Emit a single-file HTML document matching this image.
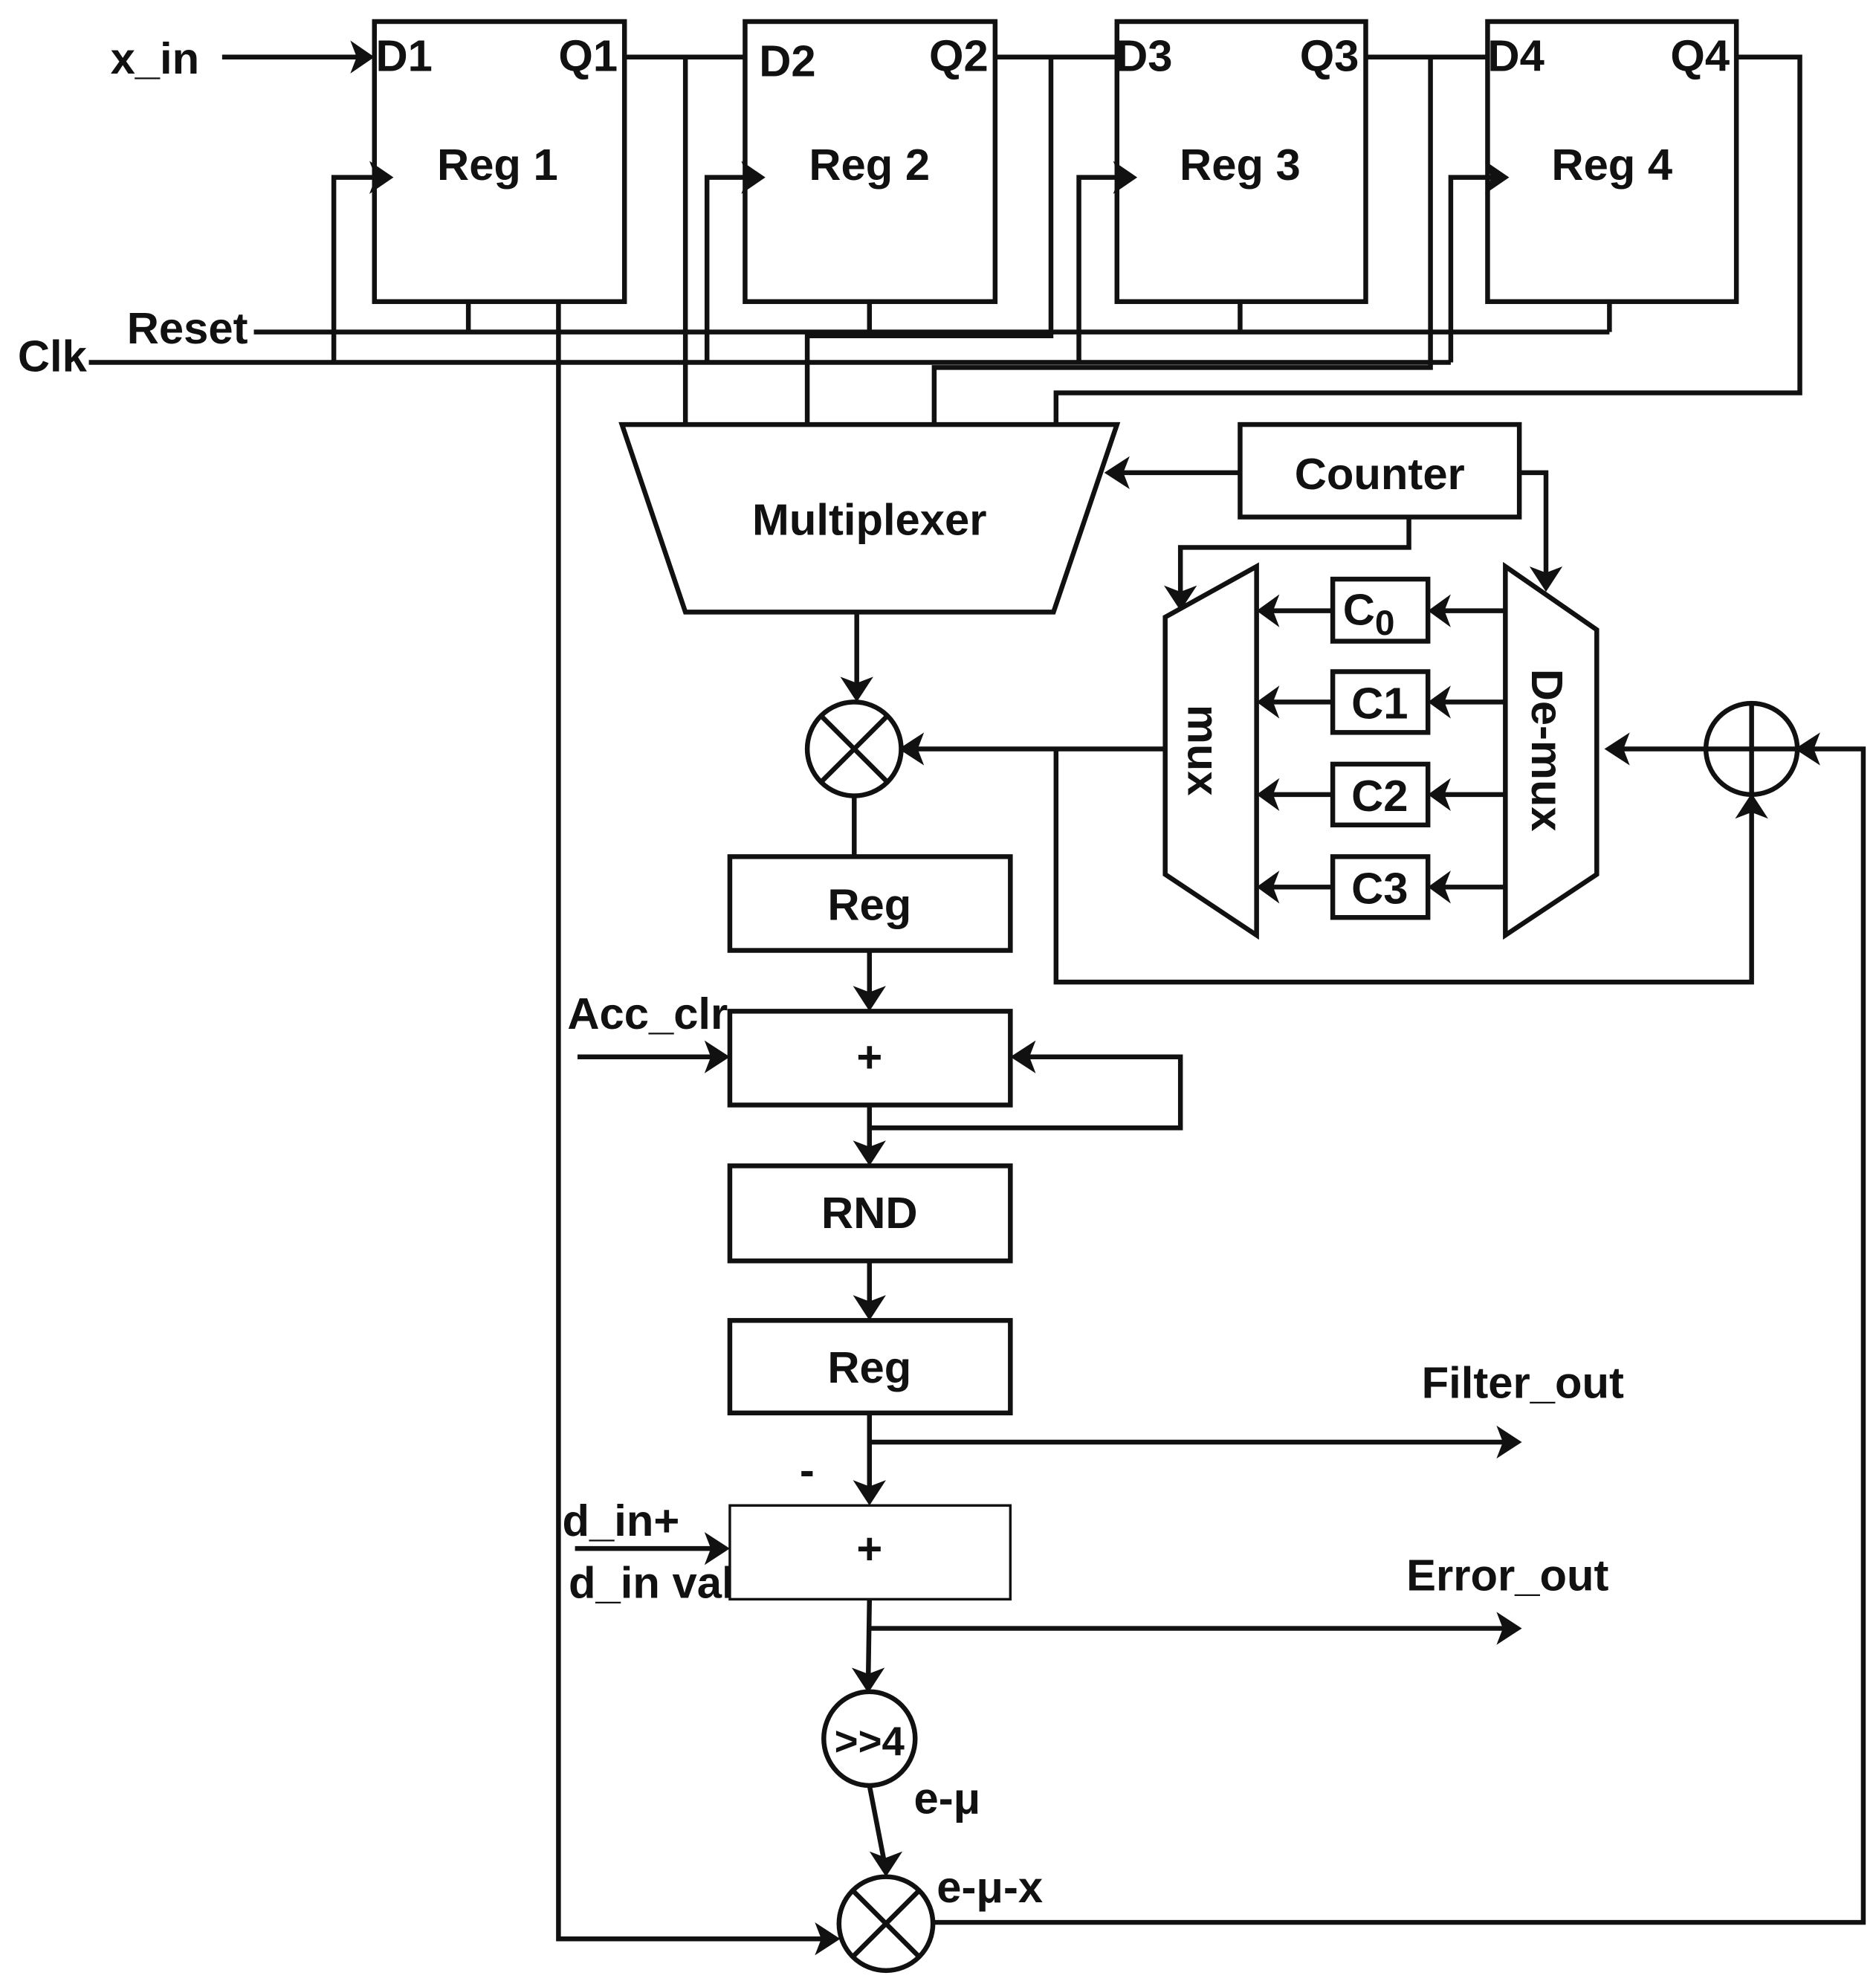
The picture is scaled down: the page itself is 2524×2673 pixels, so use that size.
<!DOCTYPE html>
<html><head><meta charset="utf-8"><style>
html,body{margin:0;padding:0;background:#fff}
svg{display:block}
text{font-family:"Liberation Sans",Arial,sans-serif;font-weight:bold;fill:#111}
</style></head><body>
<svg width="2524" height="2673" viewBox="0 0 1478 1568" preserveAspectRatio="none" xmlns="http://www.w3.org/2000/svg">
<g fill="none" stroke="#111" stroke-width="3.8">
<rect x="295" y="17" width="197" height="221"/>
<rect x="587" y="17" width="197" height="221"/>
<rect x="880" y="17" width="196" height="221"/>
<rect x="1172" y="17" width="196" height="221"/>
<line x1="175" y1="45" x2="285" y2="45"/>
<polyline points="263,286 263,140 298,140"/>
<polyline points="557,286 557,140 590,140"/>
<polyline points="850,286 850,140 883,140"/>
<polyline points="1143,286 1143,140 1175,140"/>
<line x1="70" y1="286" x2="1143" y2="286"/>
<line x1="200" y1="262" x2="1268" y2="262"/>
<line x1="369" y1="238" x2="369" y2="262"/>
<line x1="685" y1="238" x2="685" y2="262"/>
<line x1="977" y1="238" x2="977" y2="262"/>
<line x1="1268" y1="238" x2="1268" y2="262"/>
<line x1="492" y1="45" x2="587" y2="45"/>
<line x1="784" y1="45" x2="880" y2="45"/>
<line x1="1076" y1="45" x2="1172" y2="45"/>
<line x1="540" y1="45" x2="540" y2="335"/>
<polyline points="828,45 828,265 636,265 636,335"/>
<polyline points="1127,45 1127,290 736,290 736,335"/>
<polyline points="1368,45 1418,45 1418,310 832,310 832,335"/>
<polyline points="440,238 440,1530 650,1530"/>
<polygon points="490,335 880,335 830,483 540,483"/>
<rect x="977" y="335" width="220" height="73"/>
<line x1="977" y1="373" x2="882" y2="373"/>
<polyline points="1197,373 1218,373 1218,455"/>
<polyline points="1110,408 1110,432 930,432 930,470"/>
<polygon points="918,487 990,447 990,738 918,690"/>
<polygon points="1186,447 1258,497 1258,690 1186,738"/>
<rect x="1050" y="457" width="75" height="49"/>
<rect x="1050" y="530" width="75" height="48"/>
<rect x="1050" y="603" width="75" height="48"/>
<rect x="1050" y="676" width="75" height="48"/>
<line x1="1186" y1="482" x2="1133" y2="482"/><line x1="1050" y1="482" x2="998" y2="482"/>
<line x1="1186" y1="554" x2="1133" y2="554"/><line x1="1050" y1="554" x2="998" y2="554"/>
<line x1="1186" y1="627" x2="1133" y2="627"/><line x1="1050" y1="627" x2="998" y2="627"/>
<line x1="1186" y1="700" x2="1133" y2="700"/><line x1="1050" y1="700" x2="998" y2="700"/>
<circle cx="673" cy="591" r="37"/>
<line x1="647" y1="565" x2="699" y2="617"/><line x1="699" y1="565" x2="647" y2="617"/>
<line x1="675" y1="483" x2="675" y2="545"/>
<line x1="918" y1="591" x2="718" y2="591"/>
<polyline points="832,591 832,775 1380,775 1380,636"/>
<circle cx="1380" cy="591" r="36"/>
<line x1="1344" y1="591" x2="1274" y2="591"/>
<line x1="1380" y1="555" x2="1380" y2="627"/><line x1="1344" y1="591" x2="1416" y2="591"/>
<polyline points="735,1517 1468,1517 1468,591 1424,591"/>
<line x1="673" y1="628" x2="673" y2="676"/>
<rect x="575" y="676" width="221" height="74"/>
<line x1="685" y1="750" x2="685" y2="790"/>
<rect x="575" y="798" width="221" height="74"/>
<line x1="455" y1="834" x2="566" y2="834"/>
<polyline points="685,872 685,910"/>
<polyline points="685,890 930,890 930,834 804,834"/>
<rect x="575" y="920" width="221" height="75"/>
<line x1="685" y1="995" x2="685" y2="1033"/>
<rect x="575" y="1042" width="221" height="73"/>
<line x1="685" y1="1115" x2="685" y2="1180"/>
<line x1="685" y1="1138" x2="1188" y2="1138"/>
<rect x="575" y="1188" width="221" height="74" stroke-width="2"/>
<line x1="453" y1="1222" x2="566" y2="1222"/>
<line x1="685" y1="1262" x2="684" y2="1328"/>
<line x1="685" y1="1285" x2="1188" y2="1285"/>
<ellipse cx="685" cy="1372" rx="36" ry="37"/>
<line x1="685" y1="1409" x2="697" y2="1471"/>
<circle cx="698" cy="1518" r="37"/>
<line x1="672" y1="1492" x2="724" y2="1544"/><line x1="724" y1="1492" x2="672" y2="1544"/>
</g>
<g fill="#111">
<polygon points="295,45 276,32 281,45 276,58"/>
<polygon points="310,140 291,127 296,140 291,153"/>
<polygon points="603,140 584,127 589,140 584,153"/>
<polygon points="896,140 877,127 882,140 877,153"/>
<polygon points="1189,140 1170,127 1175,140 1170,153"/>
<polygon points="870,373 890,360 885,373 890,386"/>
<polygon points="1218,467 1205,447 1218,452 1231,447"/>
<polygon points="930,482 917,462 930,467 943,462"/>
<polygon points="990,482 1008,469 1003,482 1008,495"/><polygon points="1125,482 1143,469 1138,482 1143,495"/>
<polygon points="990,554 1008,541 1003,554 1008,567"/><polygon points="1125,554 1143,541 1138,554 1143,567"/>
<polygon points="990,627 1008,614 1003,627 1008,640"/><polygon points="1125,627 1143,614 1138,627 1143,640"/>
<polygon points="990,700 1008,687 1003,700 1008,713"/><polygon points="1125,700 1143,687 1138,700 1143,713"/>
<polygon points="675,554 662,534 675,539 688,534"/>
<polygon points="708,591 728,578 723,591 728,604"/>
<polygon points="1264,591 1284,578 1279,591 1284,604"/>
<polygon points="1414,591 1434,578 1429,591 1434,604"/>
<polygon points="1380,626 1367,646 1380,641 1393,646"/>
<polygon points="685,798 672,778 685,783 698,778"/>
<polygon points="575,834 555,821 560,834 555,847"/>
<polygon points="796,834 816,821 811,834 816,847"/>
<polygon points="685,920 672,900 685,905 698,900"/>
<polygon points="685,1042 672,1022 685,1027 698,1022"/>
<polygon points="685,1188 672,1168 685,1173 698,1168"/>
<polygon points="1199,1138 1179,1125 1184,1138 1179,1151"/>
<polygon points="575,1222 555,1209 560,1222 555,1235"/>
<polygon points="684,1336 671,1316 684,1321 697,1316"/>
<polygon points="1199,1285 1179,1272 1184,1285 1179,1298"/>
<polygon points="698,1481 685,1461 698,1466 711,1461"/>
<polygon points="662,1530 642,1517 647,1530 642,1543"/>
</g>
<g font-size="35">
<text x="87" y="58">x_in</text>
<text x="296" y="56">D1</text><text x="440" y="56">Q1</text>
<text x="598" y="60">D2</text><text x="732" y="56">Q2</text>
<text x="879" y="56">D3</text><text x="1024" y="56">Q3</text>
<text x="1172" y="56">D4</text><text x="1316" y="56">Q4</text>
<text x="392" y="142" text-anchor="middle">Reg 1</text>
<text x="685" y="142" text-anchor="middle">Reg 2</text>
<text x="977" y="142" text-anchor="middle">Reg 3</text>
<text x="1270" y="142" text-anchor="middle">Reg 4</text>
<text x="100" y="271">Reset</text>
<text x="14" y="293">Clk</text>
<text x="685" y="422" text-anchor="middle">Multiplexer</text>
<text x="1087" y="386" text-anchor="middle">Counter</text>
<text x="1058" y="493">C<tspan font-size="28" dy="8">0</tspan></text>
<text x="1087" y="567" text-anchor="middle">C1</text>
<text x="1087" y="640" text-anchor="middle">C2</text>
<text x="1087" y="713" text-anchor="middle">C3</text>
<text transform="translate(936,592) rotate(90)" text-anchor="middle">mux</text>
<text transform="translate(1207,592) rotate(90)" text-anchor="middle">De-mux</text>
<text x="685" y="726" text-anchor="middle">Reg</text>
<text x="447" y="812">Acc_clr</text>
<text x="685" y="846" text-anchor="middle">+</text>
<text x="685" y="969" text-anchor="middle">RND</text>
<text x="685" y="1091" text-anchor="middle">Reg</text>
<text x="1120" y="1103">Filter_out</text>
<text x="630" y="1172">-</text>
<text x="443" y="1212">d_in+</text>
<text x="448" y="1261">d_in val</text>
<text x="685" y="1234" text-anchor="middle">+</text>
<text x="1108" y="1255">Error_out</text>
<text x="685" y="1385" text-anchor="middle" font-size="32">&gt;&gt;4</text>
<text x="720" y="1431">e-μ</text>
<text x="738" y="1501">e-μ-x</text>
</g>
</svg>
</body></html>
